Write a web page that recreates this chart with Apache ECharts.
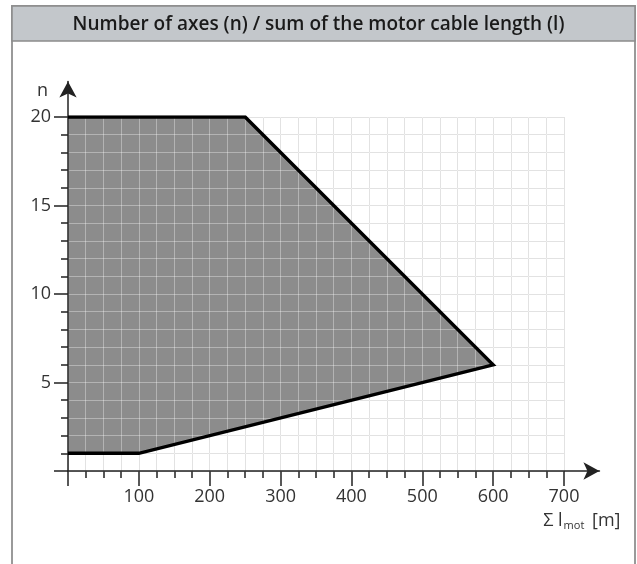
<!DOCTYPE html>
<html>
<head>
<meta charset="utf-8">
<script src="https://cdn.jsdelivr.net/npm/echarts@6/dist/echarts.min.js"></script>
<style>
  html, body { margin: 0; padding: 0; background: #fff; }
  #chart { width: 637px; height: 564px; }
</style>
</head>
<body>
<div id="chart"></div>
<script>
// Permitted operating range: number of axes n versus total motor cable length
const cableLength = [0, 250, 600, 100, 0];   // Σ l_mot [m], corner points in order
const axesCount   = [20, 20, 6, 1, 1];       // n at each corner point

const xRange = [0, 700];     // plotted cable length
const yRange = [0, 20];      // plotted number of axes
const xArrowEnd = 750;       // axis arrows run a little past the grid
const yArrowEnd = 22;
const xMajor = 100, xMinorSplit = 4;
const yMajor = 5, yMinorSplit = 5;

const titleText = 'Number of axes (n) / sum of the motor cable length (l)';

// plot frame in pixels
const plotLeft = 68, plotTop = 117, plotWidth = 496, plotHeight = 354;
const outerWidth = plotWidth * (xArrowEnd - xRange[1]) / (xRange[1] - xRange[0]) + plotWidth;
const outerHeight = plotHeight * (yArrowEnd - yRange[0]) / (yRange[1] - yRange[0]);

const FONT = 'Open Sans';
const TEXT = '#333';

const chart = echarts.init(document.getElementById('chart'), null, { renderer: 'canvas' });

const gridLineBase = { show: true, lineStyle: { color: '#d4d4d4', width: 1 } };
const gridLineOver = { show: true, lineStyle: { color: 'rgba(255,255,255,0.34)', width: 1 } };

const hiddenBits = {
  axisLine: { show: false }, axisTick: { show: false }, axisLabel: { show: false }
};

const polygon = cableLength.map((x, i) => [x, axesCount[i]]);

chart.setOption({
  animation: false,
  backgroundColor: '#fff',
  graphic: [
    { type: 'rect', z: -10, shape: { x: 12, y: 6, width: 623, height: 570 },
      style: { fill: '#fff', stroke: '#9a9a9a', lineWidth: 2 } },
    { type: 'rect', z: -9, shape: { x: 12, y: 6, width: 623, height: 35 },
      style: { fill: '#c3c7cb', stroke: '#8c8c8c', lineWidth: 1.5 } }
  ],
  title: {
    text: titleText,
    left: 'center',
    top: 10,
    textStyle: { fontFamily: FONT, fontSize: 19, fontWeight: 600, color: '#1a1a1a' }
  },
  grid: [
    { left: plotLeft, top: plotTop, width: plotWidth, height: plotHeight },
    { left: plotLeft, top: plotTop + plotHeight - outerHeight, width: outerWidth, height: outerHeight }
  ],
  xAxis: [
    { // ticks, labels and the grid under the shaded area
      gridIndex: 0, type: 'value', position: 'bottom', z: 0,
      min: xRange[0], max: xRange[1], interval: xMajor,
      axisLine: { show: false },
      axisTick: { show: true, length: 15, lineStyle: { color: '#222', width: 1.5 } },
      minorTick: { show: true, splitNumber: xMinorSplit, length: 7, lineStyle: { color: '#222', width: 1.5 } },
      axisLabel: { show: true, margin: 17, fontFamily: FONT, fontSize: 18, color: TEXT,
        formatter: v => (v === 0 ? '' : String(v)) },
      splitLine: gridLineBase,
      minorSplitLine: gridLineBase
    },
    { // light grid drawn over the shaded area
      gridIndex: 0, type: 'value', position: 'top', z: 5,
      min: xRange[0], max: xRange[1], interval: xMajor,
      ...hiddenBits,
      minorTick: { show: false, splitNumber: xMinorSplit },
      splitLine: gridLineOver,
      minorSplitLine: gridLineOver
    },
    { // axis line with arrow
      gridIndex: 1, type: 'value', position: 'bottom', z: 6,
      min: xRange[0], max: xArrowEnd,
      axisLine: { show: true, symbol: ['none', 'arrow'], symbolSize: [13, 16],
        lineStyle: { color: '#222', width: 1.5 } },
      axisTick: { show: false }, axisLabel: { show: false }, splitLine: { show: false },
      name: 'Σ l{sub|mot} [m]',
      nameLocation: 'end',
      nameGap: 21,
      nameTextStyle: {
        fontFamily: FONT, fontSize: 18, color: TEXT,
        align: 'right', verticalAlign: 'top', padding: [40, 0, 0, 0],
        rich: { sub: { fontFamily: FONT, fontSize: 11, color: TEXT, padding: [9, 3, 0, 1] } }
      }
    }
  ],
  yAxis: [
    {
      gridIndex: 0, type: 'value', position: 'left', z: 0,
      min: yRange[0], max: yRange[1], interval: yMajor,
      axisLine: { show: false },
      axisTick: { show: true, length: 14, lineStyle: { color: '#222', width: 1.5 } },
      minorTick: { show: true, splitNumber: yMinorSplit, length: 7, lineStyle: { color: '#222', width: 1.5 } },
      axisLabel: { show: true, margin: 17, fontFamily: FONT, fontSize: 18, color: TEXT,
        formatter: v => (v === 0 ? '' : String(v)) },
      splitLine: gridLineBase,
      minorSplitLine: gridLineBase
    },
    {
      gridIndex: 0, type: 'value', position: 'right', z: 5,
      min: yRange[0], max: yRange[1], interval: yMajor,
      ...hiddenBits,
      minorTick: { show: false, splitNumber: yMinorSplit },
      splitLine: gridLineOver,
      minorSplitLine: gridLineOver
    },
    {
      gridIndex: 1, type: 'value', position: 'left', z: 6,
      min: yRange[0], max: yArrowEnd,
      axisLine: { show: true, symbol: ['none', 'arrow'], symbolSize: [13, 16],
        lineStyle: { color: '#222', width: 1.5 } },
      axisTick: { show: false }, axisLabel: { show: false }, splitLine: { show: false },
      name: 'n',
      nameLocation: 'end',
      nameGap: -18,
      nameTextStyle: { fontFamily: FONT, fontSize: 18, color: TEXT, align: 'right', padding: [0, 20, 0, 0] }
    }
  ],
  series: [
    { // shaded permitted region
      type: 'custom',
      xAxisIndex: 0, yAxisIndex: 0, z: 2,
      data: [0],
      renderItem: (params, api) => ({
        type: 'polygon',
        shape: { points: polygon.map(p => api.coord(p)) },
        style: { fill: '#8c8c8c', stroke: 'none' }
      }),
      silent: true
    },
    { // boundary line
      type: 'line',
      xAxisIndex: 0, yAxisIndex: 0, z: 8,
      data: polygon,
      symbol: 'none',
      lineStyle: { color: '#000', width: 3.4, join: 'miter' },
      silent: true
    }
  ]
});
</script>
</body>
</html>
